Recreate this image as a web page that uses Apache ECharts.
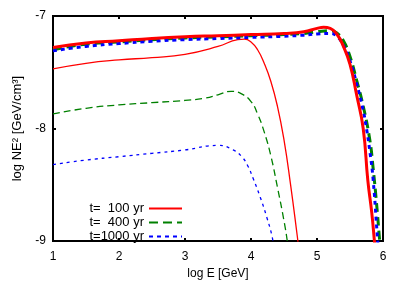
<!DOCTYPE html>
<html><head><meta charset="utf-8">
<script src="https://cdn.jsdelivr.net/npm/echarts@6/dist/echarts.min.js"></script>
<style>html,body{margin:0;padding:0;background:#fff}#c{width:407px;height:285px}</style>
</head><body><div id="c"></div>
<script>
const xTicks = [1, 2, 3, 4, 5, 6];
const yTicks = [-9, -8, -7];
const legendNames = ['t=  100 yr', 't=  400 yr', 't=1000 yr'];

// thick curves: [logE, logNE2]
const thick100 = [[1,-7.28],[1.5,-7.24],[2,-7.22],[2.5,-7.20],[3,-7.185],[3.5,-7.175],[4,-7.165],[4.5,-7.155],[4.8,-7.14],[5.0,-7.11],[5.1,-7.10],[5.2,-7.11],[5.3,-7.16],[5.4,-7.27],[5.5,-7.43],[5.6,-7.70],[5.7,-8.0],[5.77,-8.46],[5.83,-8.75],[5.87,-9.0],[5.9,-9.2]];
const thick400 = [[1,-7.30],[1.5,-7.25],[2,-7.23],[2.5,-7.21],[3,-7.195],[3.5,-7.185],[4,-7.175],[4.5,-7.165],[4.8,-7.155],[5.0,-7.14],[5.2,-7.13],[5.3,-7.15],[5.4,-7.22],[5.5,-7.36],[5.6,-7.57],[5.7,-7.80],[5.8,-8.1],[5.85,-8.35],[5.9,-8.65],[5.95,-9.0],[5.98,-9.2]];
const thick1000 = [[1,-7.31],[1.5,-7.27],[2,-7.245],[2.5,-7.225],[3,-7.21],[3.5,-7.20],[4,-7.19],[4.5,-7.18],[4.8,-7.17],[5.0,-7.16],[5.2,-7.155],[5.3,-7.18],[5.4,-7.26],[5.5,-7.40],[5.6,-7.60],[5.7,-7.84],[5.75,-8.0],[5.8,-8.2],[5.85,-8.45],[5.92,-9.0],[5.95,-9.2]];
// thin curves
const thin100 = [[1,-7.47],[1.5,-7.42],[2,-7.39],[2.5,-7.37],[3,-7.34],[3.5,-7.27],[3.8,-7.21],[3.9,-7.205],[4.0,-7.23],[4.1,-7.30],[4.2,-7.42],[4.3,-7.58],[4.4,-7.80],[4.5,-8.1],[4.6,-8.5],[4.7,-8.95],[4.72,-9.05]];
const thin400 = [[1,-7.87],[1.5,-7.82],[2,-7.79],[2.5,-7.77],[3,-7.75],[3.3,-7.73],[3.5,-7.70],[3.7,-7.67],[3.85,-7.69],[4.0,-7.76],[4.1,-7.87],[4.2,-8.03],[4.3,-8.24],[4.4,-8.52],[4.5,-8.82],[4.55,-9.0],[4.57,-9.1]];
const thin1000 = [[1,-8.32],[1.5,-8.28],[2,-8.25],[2.5,-8.22],[3,-8.19],[3.5,-8.15],[3.73,-8.19],[3.86,-8.25],[3.95,-8.33],[4.03,-8.44],[4.14,-8.61],[4.24,-8.79],[4.32,-8.96],[4.34,-9.05]];

const RED = '#ff0000', GREEN = '#008000', BLUE = '#0000ff';
const font = 'Liberation Sans, Arial, sans-serif';

const chart = echarts.init(document.getElementById('c'), null, {renderer: 'canvas'});
function ser(name, data, color, width, type, z) {
  return {name, type: 'line', data, symbol: 'none', smooth: true,
    clip: true, z, xAxisIndex: 0, yAxisIndex: 0,
    lineStyle: {color, width, type}, itemStyle: {color}};
}
chart.setOption({
  animation: false,
  backgroundColor: '#fff',
  grid: {left: 53, right: 24, top: 16, bottom: 42, show: true, borderColor: '#000', borderWidth: 2, backgroundColor: 'transparent'},
  legend: {
    data: legendNames, orient: 'vertical', align: 'right', right: 224, top: 202,
    itemWidth: 33, itemHeight: 12, itemGap: 1, padding: 0,
    itemStyle: {opacity: 0, borderWidth: 0},
    textStyle: {fontFamily: font, fontSize: 13, color: '#000'}
  },
  xAxis: [
    {type: 'value', min: xTicks[0], max: xTicks[xTicks.length-1], interval: 1, position: 'bottom',
     name: 'log E [GeV]', nameLocation: 'middle', nameGap: 24,
     nameTextStyle: {fontFamily: font, fontSize: 12, color: '#000'},
     axisLine: {show: false}, splitLine: {show: false},
     axisTick: {show: true, inside: true, length: 3, lineStyle: {color: '#000', width: 2}},
     axisLabel: {fontFamily: font, fontSize: 12, color: '#000', margin: 10}},
    {type: 'value', min: xTicks[0], max: xTicks[xTicks.length-1], interval: 1, position: 'top',
     axisLine: {show: false}, splitLine: {show: false}, axisLabel: {show: false},
     axisTick: {show: true, inside: true, length: 3, lineStyle: {color: '#000', width: 2}}}
  ],
  yAxis: [
    {type: 'value', min: yTicks[0], max: yTicks[yTicks.length-1], interval: 1, position: 'left',
     name: 'log NE² [GeV/cm³]', nameLocation: 'middle', nameGap: 29, nameRotate: 90,
     nameTextStyle: {fontFamily: font, fontSize: 13, color: '#000'},
     axisLine: {show: false}, splitLine: {show: false},
     axisTick: {show: true, inside: true, length: 3, lineStyle: {color: '#000', width: 2}},
     axisLabel: {fontFamily: font, fontSize: 12, color: '#000', margin: 7}},
    {type: 'value', min: yTicks[0], max: yTicks[yTicks.length-1], interval: 1, position: 'right',
     axisLine: {show: false}, splitLine: {show: false}, axisLabel: {show: false},
     axisTick: {show: true, inside: true, length: 3, lineStyle: {color: '#000', width: 2}}}
  ],
  series: [
    ser('thin100', thin100, RED, 1.3, 'solid', 2),
    ser('thin400', thin400, GREEN, 1.3, [7, 4], 2),
    ser('thin1000', thin1000, BLUE, 1.3, [3, 4], 2),
    ser(legendNames[1], thick400, GREEN, 3, [9, 5], 3),
    ser(legendNames[2], thick1000, BLUE, 3, [4, 4], 4),
    ser(legendNames[0], thick100, RED, 3, 'solid', 5)
  ]
});
</script></body></html>
